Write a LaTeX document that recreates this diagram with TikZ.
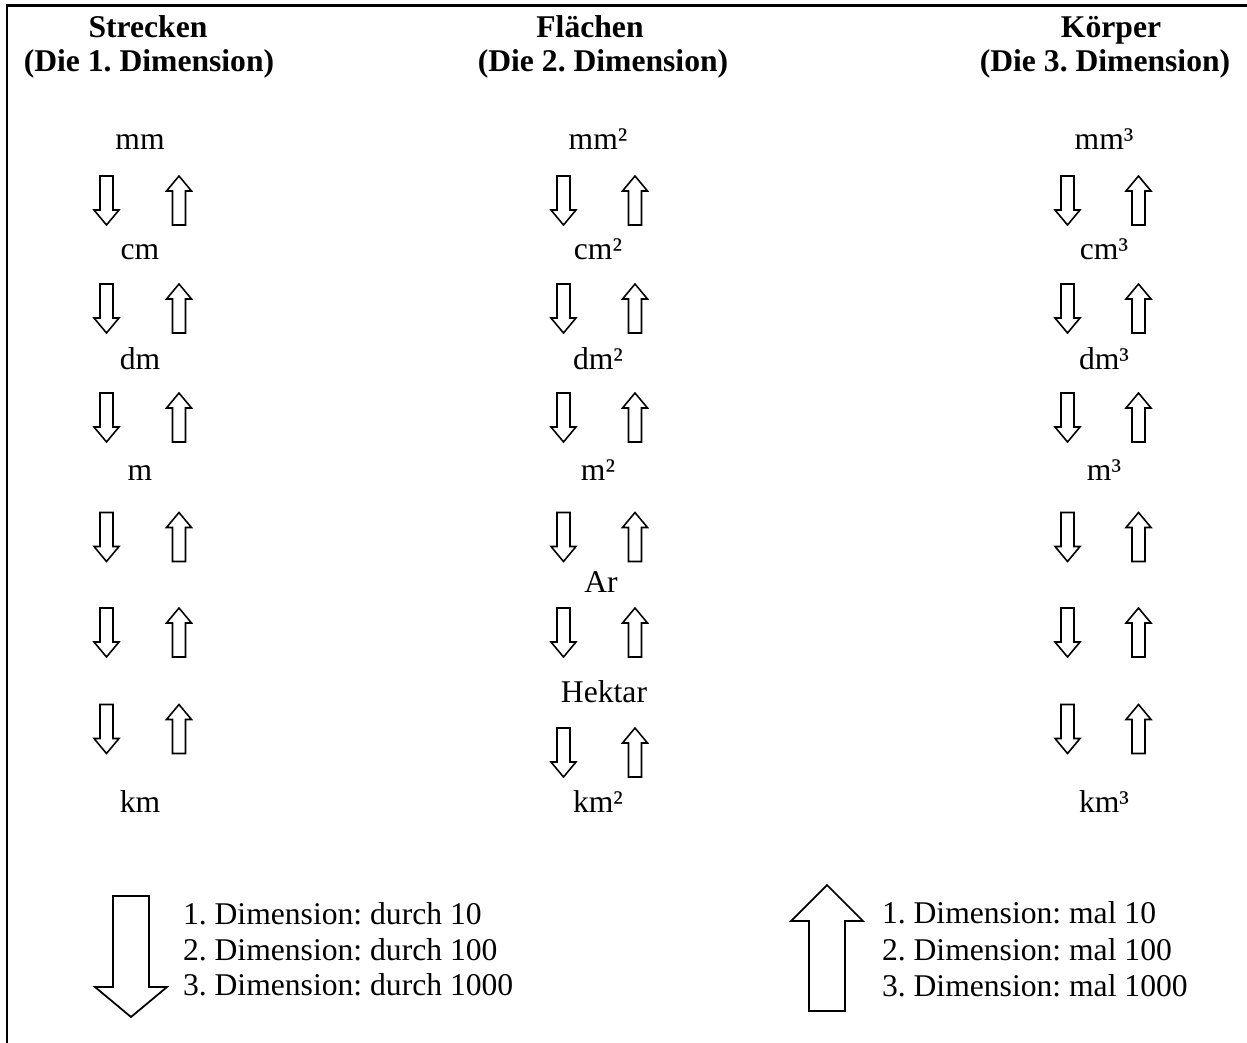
\documentclass[tikz,border=0pt]{standalone}
\usepackage{fontspec}
\setmainfont{Liberation Serif}
\frenchspacing
\begin{document}
\frenchspacing
\begin{tikzpicture}[x=0.02cm,y=-0.02cm,
  every node/.style={inner sep=0pt, outer sep=0pt, font=\fontsize{18}{20}\selectfont},
  head/.style={anchor=base, font=\fontsize{18}{20}\selectfont\bfseries},
  unit/.style={anchor=base},
  legend/.style={anchor=base west},
  frameline/.style={line width=1.7pt},
  arrline/.style={draw, line width=0.9pt, line join=miter},
  bigarr/.style={draw, line width=1pt, line join=miter},
  pics/dnarr/.style={code={\draw[arrline] (-6.5,-24.5) -- (6.5,-24.5) -- (6.5,9.5) -- (12.5,9.5) -- (0,24.5) -- (-12.5,9.5) -- (-6.5,9.5) -- cycle;}},
  pics/uparr/.style={code={\draw[arrline] (-6.5,24.5) -- (6.5,24.5) -- (6.5,-9.5) -- (12.5,-9.5) -- (0,-24.5) -- (-12.5,-9.5) -- (-6.5,-9.5) -- cycle;}}
]
\useasboundingbox (0,0) rectangle (1247,1043);
% frame
\draw[frameline] (7,1043) -- (7,6) -- (1247,6);

% headers
\node[head] (h1a) at (148,38) {Strecken};
\node[head] (h1b) at (149,72) {(Die 1. Dimension)};
\node[head] (h2a) at (590,38) {Flächen};
\node[head] (h2b) at (603,72) {(Die 2. Dimension)};
\node[head] (h3a) at (1111,38) {Körper};
\node[head] (h3b) at (1105,72) {(Die 3. Dimension)};

% column 1
\node[unit] (mm) at (140,150) {mm};
\node[unit] (cm) at (140,260) {cm};
\node[unit] (dm) at (140,370) {dm};
\node[unit] (m)  at (140,480) {m};
\node[unit] (km) at (140,812) {km};
% column 2
\node[unit] (mm2) at (598,150) {mm²};
\node[unit] (cm2) at (598,260) {cm²};
\node[unit] (dm2) at (598,370) {dm²};
\node[unit] (m2)  at (598,480) {m²};
\node[unit] (ar)  at (601,592) {Ar};
\node[unit] (ha)  at (604,702) {Hektar};
\node[unit] (km2) at (598,812) {km²};
% column 3
\node[unit] (mm3) at (1104,150) {mm³};
\node[unit] (cm3) at (1104,260) {cm³};
\node[unit] (dm3) at (1104,370) {dm³};
\node[unit] (m3)  at (1104,480) {m³};
\node[unit] (km3) at (1104,812) {km³};

% small arrows
\foreach \y [count=\i] in {200.5,308.5,417.5,537,632.5,729}{
  \pic (aOd\i) at (106.5,\y) {dnarr};
  \pic (aOu\i) at (179,\y) {uparr};
  \pic (aTd\i) at (1067.5,\y) {dnarr};
  \pic (aTu\i) at (1138.5,\y) {uparr};
}
\foreach \y [count=\i] in {200.5,308.5,417.5,537,632.5,752.5}{
  \pic (aWd\i) at (563.5,\y) {dnarr};
  \pic (aWu\i) at (635,\y) {uparr};
}

% big arrows
\draw[bigarr] (113,896) -- (149,896) -- (149,987) -- (167,987) -- (131,1017) -- (95,987) -- (113,987) -- cycle;
\draw[bigarr] (809,1011) -- (845,1011) -- (845,921) -- (863,921) -- (827,885) -- (791,921) -- (809,921) -- cycle;

% legends
\node[legend] (l1) at (183,924) {1. Dimension: durch 10};
\node[legend] (l2) at (183,960) {2. Dimension: durch 100};
\node[legend] (l3) at (183,995) {3. Dimension: durch 1000};
\node[legend] (r1) at (882,923) {1. Dimension: mal 10};
\node[legend] (r2) at (882,960) {2. Dimension: mal 100};
\node[legend] (r3) at (882,996) {3. Dimension: mal 1000};
\end{tikzpicture}
\end{document}
